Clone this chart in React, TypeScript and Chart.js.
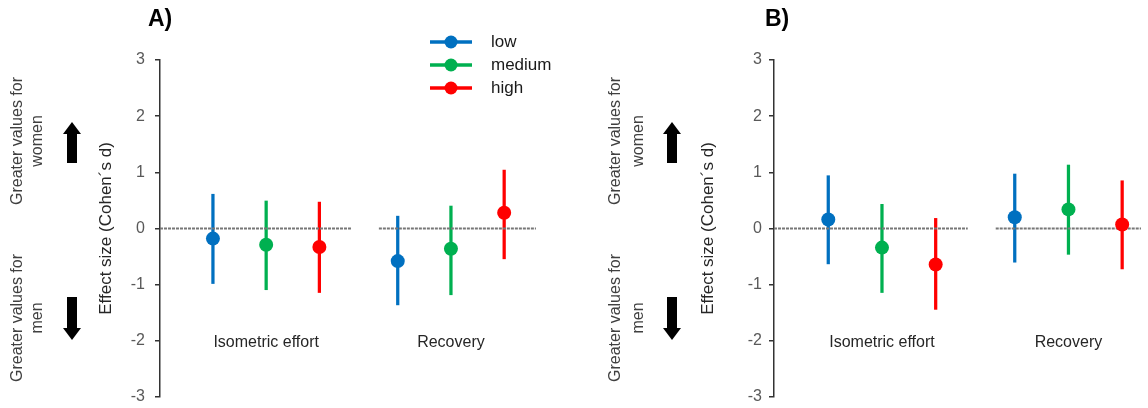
import React, { useEffect, useRef } from "react";
import { Chart, registerables } from "chart.js";
Chart.register(...registerables);

const FONT = "'Liberation Sans', Arial, sans-serif";

// ---- data ----
const categories = ["Isometric effort", "Recovery"];
const levels = ["low", "medium", "high"];
const levelColors = ["#0070C0", "#00B050", "#FF0000"];
const yTickValues = [-3, -2, -1, 0, 1, 2, 3];
const yTitle = "Effect size (Cohen´s d)";
const womenNote = ["Greater values for", "women"];
const menNote = ["Greater values for", "men"];

// Panel A: effect size per category (Isometric effort, Recovery)
const aLow = [-0.18, -0.58];
const aMedium = [-0.29, -0.36];
const aHigh = [-0.33, 0.28];
// Panel A: confidence intervals [lower, upper]
const aLowCI = [[-0.98, 0.61], [-1.36, 0.22]];
const aMediumCI = [[-1.09, 0.49], [-1.18, 0.4]];
const aHighCI = [[-1.14, 0.47], [-0.54, 1.04]];

// Panel B
const bLow = [0.16, 0.2];
const bMedium = [-0.34, 0.34];
const bHigh = [-0.64, 0.07];
const bLowCI = [[-0.63, 0.94], [-0.6, 0.97]];
const bMediumCI = [[-1.14, 0.43], [-0.46, 1.13]];
const bHighCI = [[-1.44, 0.18], [-0.72, 0.85]];

// ---- layout constants ----
const DODGE = 0.288;
const LABEL_Y = -2.04;

type PanelCfg = {
  title: string;
  effects: number[][];
  cis: number[][][];
  axisWidth: number;
  xMin: number;
  xMax: number;
  titlePad: number;
  tickPad: number;
  noteX1: number;
  noteX2: number;
  arrowX: number;
  panelTitleX: number;
  legend: boolean;
};

const panels: PanelCfg[] = [
  {
    title: "A)",
    effects: [aLow, aMedium, aHigh],
    cis: [aLowCI, aMediumCI, aHighCI],
    axisWidth: 160,
    xMin: -0.5745,
    xMax: 1.628,
    titlePad: 96,
    tickPad: 10,
    noteX1: 18,
    noteX2: 38,
    arrowX: 72,
    panelTitleX: 148,
    legend: true,
  },
  {
    title: "B)",
    effects: [bLow, bMedium, bHigh],
    cis: [bLowCI, bMediumCI, bHighCI],
    axisWidth: 200,
    xMin: -0.579,
    xMax: 1.389,
    titlePad: 124,
    tickPad: 7,
    noteX1: 42,
    noteX2: 65,
    arrowX: 98,
    panelTitleX: 191,
    legend: false,
  },
];

function drawArrow(ctx: CanvasRenderingContext2D, x: number, tip: number, base: number, end: number) {
  ctx.save();
  ctx.fillStyle = "#000";
  const top = Math.min(base, end);
  ctx.fillRect(x - 5, top, 10, Math.abs(end - base));
  ctx.beginPath();
  ctx.moveTo(x, tip);
  ctx.lineTo(x - 9, base);
  ctx.lineTo(x + 9, base);
  ctx.closePath();
  ctx.fill();
  ctx.restore();
}

function vText(ctx: CanvasRenderingContext2D, text: string, x: number, y: number) {
  ctx.save();
  ctx.translate(x, y);
  ctx.rotate(-Math.PI / 2);
  ctx.textAlign = "center";
  ctx.textBaseline = "middle";
  ctx.fillText(text, 0, 0);
  ctx.restore();
}

function makePlugin(cfg: PanelCfg) {
  return {
    id: "decor",
    afterDraw(chart: any) {
      const ctx: CanvasRenderingContext2D = chart.ctx;
      const xs = chart.scales.x;
      const ys = chart.scales.y;
      ctx.save();
      // panel title
      ctx.fillStyle = "#000";
      ctx.font = `bold 23px ${FONT}`;
      ctx.textAlign = "left";
      ctx.textBaseline = "middle";
      ctx.fillText(cfg.title, cfg.panelTitleX, 20);
      // notes
      ctx.fillStyle = "#404040";
      ctx.font = `16px ${FONT}`;
      vText(ctx, womenNote[0], cfg.noteX1, 141);
      vText(ctx, womenNote[1], cfg.noteX2, 141);
      vText(ctx, menNote[0], cfg.noteX1, 318);
      vText(ctx, menNote[1], cfg.noteX2, 318);
      drawArrow(ctx, cfg.arrowX, 122, 134, 163);
      drawArrow(ctx, cfg.arrowX, 340, 328, 297);
      // category labels
      ctx.fillStyle = "#262626";
      ctx.font = `16px ${FONT}`;
      ctx.textAlign = "center";
      ctx.textBaseline = "middle";
      categories.forEach((c, gi) => {
        ctx.fillText(c, xs.getPixelForValue(gi), ys.getPixelForValue(LABEL_Y));
      });
      // legend
      if (cfg.legend) {
        levels.forEach((lv, li) => {
          const y = 42 + li * 23;
          ctx.strokeStyle = levelColors[li];
          ctx.lineWidth = 3.5;
          ctx.beginPath();
          ctx.moveTo(430, y);
          ctx.lineTo(472, y);
          ctx.stroke();
          ctx.fillStyle = levelColors[li];
          ctx.beginPath();
          ctx.arc(451, y, 6.5, 0, Math.PI * 2);
          ctx.fill();
          ctx.fillStyle = "#1a1a1a";
          ctx.font = `17px ${FONT}`;
          ctx.textAlign = "left";
          ctx.fillText(lv, 491, y);
        });
      }
      ctx.restore();
    },
  };
}

function buildDatasets(cfg: PanelCfg) {
  const ds: any[] = [];
  levels.forEach((lv, li) => {
    ds.push({
      type: "scatter",
      label: lv,
      data: categories.map((_, gi) => ({ x: gi + (li - 1) * DODGE, y: cfg.effects[li][gi] })),
      backgroundColor: levelColors[li],
      borderWidth: 0,
      pointRadius: 7,
      pointHoverRadius: 7,
      order: 0,
    });
  });
  categories.forEach((_, gi) => {
    ds.push({
      type: "line",
      label: "zero " + gi,
      data: [
        { x: gi === 0 ? cfg.xMin : gi - 0.39, y: 0 },
        { x: gi + 0.46, y: 0 },
      ],
      borderColor: "#777777",
      borderWidth: 2,
      borderDash: [3, 1],
      pointRadius: 0,
      fill: false,
      order: 1,
    });
  });
  levels.forEach((lv, li) => {
    ds.push({
      type: "bar",
      label: lv + " CI",
      data: categories.map((_, gi) => ({ x: gi + (li - 1) * DODGE, y: cfg.cis[li][gi] })),
      backgroundColor: levelColors[li],
      borderWidth: 0,
      barThickness: 2.6,
      grouped: false,
      order: 2,
    });
  });
  return ds;
}

function Panel({ cfg, left }: { cfg: PanelCfg; left: number }) {
  const ref = useRef<HTMLCanvasElement | null>(null);
  useEffect(() => {
    if (!ref.current) return;
    const chart = new Chart(ref.current, {
      type: "scatter",
      data: { datasets: buildDatasets(cfg) },
      options: {
        animation: false,
        responsive: false,
        events: [],
        layout: { padding: { left: 0, right: 0, top: 60, bottom: 11 } },
        plugins: { legend: { display: false }, tooltip: { enabled: false } },
        scales: {
          x: { type: "linear", display: false, min: cfg.xMin, max: cfg.xMax, offset: false },
          y: {
            type: "linear",
            min: -3,
            max: 3,
            afterBuildTicks: (s: any) => {
              s.ticks = yTickValues.map((v) => ({ value: v }));
            },
            afterFit: (s: any) => {
              s.width = cfg.axisWidth;
              s.paddingTop = 0;
              s.paddingBottom = 0;
            },
            ticks: {
              color: "#595959",
              font: { family: FONT, size: 16 },
              padding: cfg.tickPad,
            },
            grid: { drawOnChartArea: false, drawTicks: true, tickLength: 5, color: "#333", lineWidth: 1.5 },
            border: { display: true, color: "#333", width: 1.5 },
            title: {
              display: true,
              text: yTitle,
              color: "#262626",
              font: { family: FONT, size: 17 },
              padding: { top: cfg.titlePad, bottom: 0 },
            },
          },
        },
      } as any,
      plugins: [makePlugin(cfg)],
    });
    return () => chart.destroy();
  }, [cfg]);
  return (
    <div style={{ position: "absolute", left, top: 0, width: 574, height: 408 }}>
      <canvas ref={ref} width={574} height={408} style={{ width: 574, height: 408, display: "block" }} />
    </div>
  );
}

export default function App() {
  return (
    <div style={{ position: "fixed", left: 0, top: 0, width: 1148, height: 408, background: "#fff", overflow: "hidden" }}>
      <Panel cfg={panels[0]} left={0} />
      <Panel cfg={panels[1]} left={574} />
    </div>
  );
}
